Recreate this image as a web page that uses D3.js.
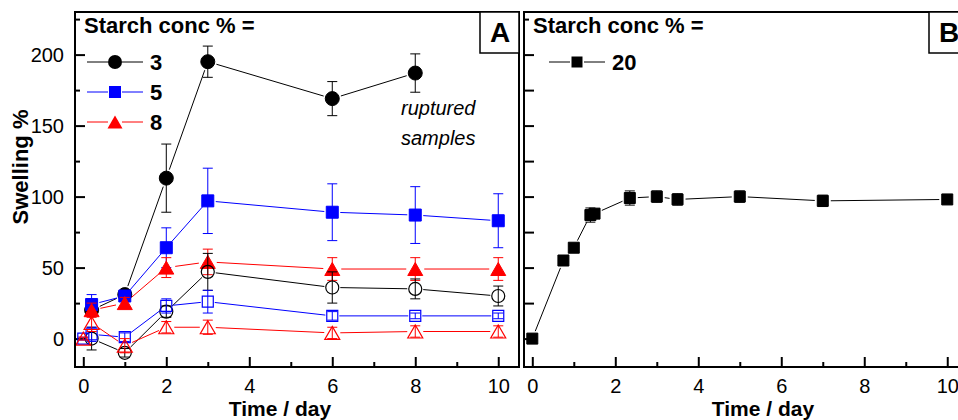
<!DOCTYPE html>
<html><head><meta charset="utf-8">
<script src="https://cdn.jsdelivr.net/npm/d3@7"></script>
<style>
html,body{margin:0;padding:0;background:#fff;overflow:hidden}
text{font-family:Arial,"Liberation Sans",sans-serif}
</style></head>
<body><svg id="c" width="958" height="420"></svg>
<script>
// ---------- data ----------
const legendTitle = "Starch conc % =";
const xLabel = "Time / day";
const yLabel = "Swelling %";
const xTicksMajor = [0, 2, 4, 6, 8, 10];
const xTicksMinor = [1, 3, 5, 7, 9];
const yTicksMajor = [0, 50, 100, 150, 200];
const yTicksMinor = [25, 75, 125, 175, 225];

// Panel A, filled markers (3, 5, 8 %)
const a3Day  = [0.2, 1, 2, 3, 6, 8];
const a3Val  = [20, 31, 113, 195, 169, 187];
const a3Err  = [3, 3, 24, 11, 12, 13.5];
const a5Day  = [0.2, 1, 2, 3, 6, 8, 10];
const a5Val  = [24, 30, 64, 97, 89, 87, 83];
const a5Err  = [7, 3, 14, 23, 20, 20, 19];
const a8Day  = [0.2, 1, 2, 3, 6, 8, 10];
const a8Val  = [20, 25, 50, 54, 49, 49, 49];
const a8Err  = [5, 4, 7, 9, 8, 8, 8];
// Panel A, open markers
const o3Day  = [0.2, 1, 2, 3, 6, 8, 10];
const o3Val  = [0, -10, 19, 47, 36, 35, 30];
const o3Err  = [8, 3, 4, 13, 11, 7, 7];
const o5Day  = [0, 0.2, 1, 2, 3, 6, 8, 10];
const o5Val  = [0, 3, 1, 23, 26, 16, 16, 16];
const o5Err  = [1, 5, 3, 5, 8, 3, 2, 2];
const o8Day  = [0, 0.2, 1, 2, 3, 6, 8, 10];
const o8Val  = [0, 11, -5, 8, 8, 4, 5, 5];
const o8Err  = [1, 6, 5, 4, 5, 4, 4, 4];
// Panel B (20 %)
const b20Day = [0, 0.75, 1, 1.4, 1.5, 2.35, 3, 3.5, 5, 7, 10];
const b20Val = [0, 55, 64, 87, 88, 99, 100, 98, 100, 97, 98];
const b20Err = [1, 1, 1, 5, 1, 5, 4, 4, 4, 4, 1];

const legendA = ["3", "5", "8"];
const legendB = ["20"];
const note = ["ruptured", "samples"];

// ---------- drawing ----------
const svg = d3.select("#c");
const FONT = 'Arial,"Liberation Sans",sans-serif';

function markerPath(shape, s) {
  if (shape === "circle") return d3.symbol(d3.symbolCircle, Math.PI * s * s / 4)();
  if (shape === "square") return `M${-s/2},${-s/2}h${s}v${s}h${-s}Z`;
  const h = s * Math.sqrt(3) / 2;
  return `M0,${-h/2}L${s/2},${h/2}L${-s/2},${h/2}Z`;
}

function panel(opt) {
  const x = d3.scaleLinear().domain([-0.2, 10.5]).range([opt.x0, opt.x0 + 444]);
  const y = d3.scaleLinear().domain([-20, 230]).range([367, 12]);
  const g = svg.append("g");

  // axes (inward ticks)
  const ax = g.append("g").attr("transform", "translate(0,367)")
    .call(d3.axisBottom(x).tickValues(xTicksMajor).tickSize(-10).tickPadding(12).tickSizeOuter(0));
  ax.select(".domain").remove();
  ax.selectAll("text").attr("font-size", 20).attr("font-family", FONT).attr("fill", "#000");
  ax.selectAll("line").attr("stroke-width", 2);
  const axm = g.append("g").attr("transform", "translate(0,367)")
    .call(d3.axisBottom(x).tickValues(xTicksMinor).tickSize(-5).tickFormat("").tickSizeOuter(0));
  axm.select(".domain").remove();
  axm.selectAll("line").attr("stroke-width", 2);

  const ay = g.append("g").attr("transform", `translate(${opt.x0},0)`)
    .call(d3.axisLeft(y).tickValues(yTicksMajor).tickSize(-10).tickPadding(11)
      .tickFormat(opt.yLabels ? d3.format("d") : "").tickSizeOuter(0));
  ay.select(".domain").remove();
  ay.selectAll("text").attr("font-size", 20).attr("font-family", FONT).attr("fill", "#000");
  ay.selectAll("line").attr("stroke-width", 2);
  const aym = g.append("g").attr("transform", `translate(${opt.x0},0)`)
    .call(d3.axisLeft(y).tickValues(yTicksMinor).tickSize(opt.minorY).tickFormat("").tickSizeOuter(0));
  aym.select(".domain").remove();
  aym.selectAll("line").attr("stroke-width", 2);
  aym.selectAll(".tick").filter(d => d === 225).select("line").attr("x2", 5);

  // series
  opt.series.forEach(s => {
    const pts = s.day.map((d, i) => ({px: x(d), py: y(s.val[i]), e: s.err[i], v: s.val[i]}));
    const sg = g.append("g");
    const gap = s.gap;
    for (let i = 0; i < pts.length - 1; i++) {
      const a = pts[i], b = pts[i + 1];
      const dx = b.px - a.px, dy = b.py - a.py, L = Math.hypot(dx, dy);
      if (L <= 2 * gap) continue;
      const ux = dx / L, uy = dy / L;
      sg.append("line")
        .attr("x1", a.px + ux * gap).attr("y1", a.py + uy * gap)
        .attr("x2", b.px - ux * gap).attr("y2", b.py - uy * gap)
        .attr("stroke", s.color).attr("stroke-width", 1);
    }
    pts.forEach((p, i) => {
      const t = y(s.val[i] + p.e), bo = y(s.val[i] - p.e);
      sg.append("line").attr("x1", p.px).attr("x2", p.px).attr("y1", t).attr("y2", bo)
        .attr("stroke", s.color).attr("stroke-width", 1);
      [t, bo].forEach(yy => sg.append("line").attr("x1", p.px - 5).attr("x2", p.px + 5)
        .attr("y1", yy).attr("y2", yy).attr("stroke", s.color).attr("stroke-width", 1));
    });
    pts.forEach(p => {
      sg.append("path").attr("d", markerPath(s.shape, s.size))
        .attr("transform", `translate(${p.px},${p.py})`)
        .attr("fill", s.open ? "none" : s.color)
        .attr("stroke", s.color).attr("stroke-width", s.open ? 1.2 : 1);
    });
  });

  // frame
  g.append("rect").attr("x", opt.x0).attr("y", 12).attr("width", 444).attr("height", 355)
    .attr("fill", "none").attr("stroke", "#000").attr("stroke-width", 2);

  // panel letter box
  g.append("rect").attr("x", opt.x0 + 405).attr("y", 12).attr("width", 39).attr("height", 41)
    .attr("fill", "#fff").attr("stroke", "#000").attr("stroke-width", 1.5);
  g.append("text").attr("x", opt.x0 + 425).attr("y", 42).attr("text-anchor", "middle")
    .attr("font-size", 28).attr("font-weight", "bold").text(opt.letter);

  // legend
  g.append("text").attr("x", opt.x0 + 9).attr("y", 33).attr("font-size", 22)
    .attr("font-weight", "bold").text(legendTitle);
  opt.legend.forEach((lab, i) => {
    const s = opt.series[i];
    const cy = 62 + i * 30, cx = opt.x0 + opt.legX;
    g.append("line").attr("x1", cx - 28).attr("x2", cx - 7).attr("y1", cy).attr("y2", cy)
      .attr("stroke", s.color).attr("stroke-width", 1);
    g.append("line").attr("x1", cx + 7).attr("x2", cx + 28).attr("y1", cy).attr("y2", cy)
      .attr("stroke", s.color).attr("stroke-width", 1);
    g.append("path").attr("d", markerPath(s.shape, s.legSize || s.size))
      .attr("transform", `translate(${cx},${cy})`).attr("fill", s.color);
    g.append("text").attr("x", cx + 35).attr("y", cy + 8).attr("font-size", 22)
      .attr("font-weight", "bold").text(lab);
  });

  // x title
  g.append("text").attr("x", opt.x0 + opt.xTitle).attr("y", 416).attr("text-anchor", "middle")
    .attr("font-size", 21).attr("font-weight", "bold").text(xLabel);
  return {x, y, g};
}

const A = panel({
  x0: 75, letter: "A", yLabels: true, minorY: -5, legX: 40, xTitle: 205,
  legend: legendA,
  series: [
    {day: a3Day, val: a3Val, err: a3Err, color: "#000", shape: "circle", size: 14, gap: 9},
    {day: a5Day, val: a5Val, err: a5Err, color: "#0000ff", shape: "square", size: 12, gap: 8},
    {day: a8Day, val: a8Val, err: a8Err, color: "#ff0000", shape: "triangle", size: 15, gap: 9},
    {day: o3Day, val: o3Val, err: o3Err, color: "#000", shape: "circle", size: 13, gap: 8, open: true},
    {day: o5Day, val: o5Val, err: o5Err, color: "#0000ff", shape: "square", size: 11, gap: 7, open: true},
    {day: o8Day, val: o8Val, err: o8Err, color: "#ff0000", shape: "triangle", size: 15, gap: 8, open: true}
  ]
});
note.forEach((t, i) => A.g.append("text").attr("x", 401).attr("y", 115 + i * 30)
  .attr("font-size", 20).attr("font-style", "italic").text(t));

svg.append("text").attr("transform", "translate(28,167) rotate(-90)").attr("text-anchor", "middle")
  .attr("font-size", 22).attr("font-weight", "bold").text(yLabel);

panel({
  x0: 524, letter: "B", yLabels: false, minorY: -10, legX: 53, xTitle: 239,
  legend: legendB,
  series: [
    {day: b20Day, val: b20Val, err: b20Err, color: "#000", shape: "square", size: 11, gap: 8}
  ]
});
</script></body></html>
